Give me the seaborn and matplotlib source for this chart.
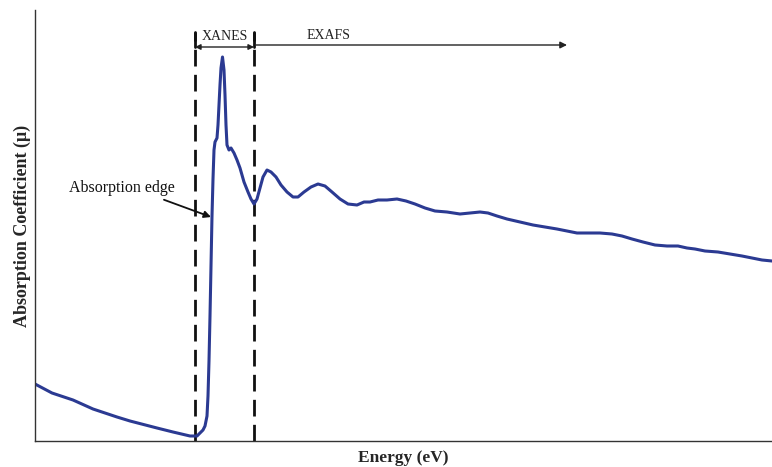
import matplotlib
matplotlib.use("Agg")
import matplotlib.pyplot as plt
import seaborn as sns
import pandas as pd

# X-ray absorption spectrum (arbitrary energy / absorption units)
energy = [0, 17, 38, 58, 82, 95, 122, 138, 155, 162,
          168, 170, 172, 173, 174, 175, 176, 177, 178, 179,
          180, 182, 183, 184, 185, 186, 187.5, 189, 190, 191,
          192, 194, 196, 199, 202, 205, 209, 213, 216, 219,
          222, 225, 228, 232, 236, 241, 246, 252, 258, 263,
          269, 276, 283, 290, 297, 305, 313, 322, 329, 335,
          343, 352, 362, 371, 380, 390, 400, 412, 425, 435,
          445, 453, 462, 472, 485, 498, 510, 522, 532, 542,
          555, 565, 577, 587, 597, 608, 620, 632, 643, 652,
          660, 670, 683, 695, 707, 717, 727, 737]
absorption = [57, 48, 41, 32, 24, 20, 13, 9, 5, 5,
              11, 15, 25, 45, 80, 125, 175, 225, 262, 291,
              299, 303, 316, 336, 356, 373, 384, 371, 346, 316,
              296, 291, 293, 288, 281, 273, 259, 249, 242, 237,
              242, 253, 264, 271, 269, 264, 256, 249, 244, 244,
              249, 254, 257, 255, 249, 242, 237, 236, 239, 239,
              241, 241, 242, 240, 237, 233, 230, 229, 227, 228,
              229, 228, 225, 222, 219, 216, 214, 212, 210, 208,
              208, 208, 207, 205, 202, 199, 196, 195, 195, 193,
              192, 190, 189, 187, 185, 183, 181, 180]

# Region boundaries (energy units)
edge_start = 160
xanes_end = 219
exafs_end = 532

df = pd.DataFrame({"Energy": energy, "Absorption": absorption})

sns.set_style("white")
plt.rcParams["font.family"] = ["Liberation Serif", "DejaVu Serif"]

fig = plt.figure(figsize=(7.72, 4.67), dpi=100)
ax = fig.add_axes([35 / 772, 26 / 467, 1 - 35 / 772, 431 / 467])

sns.lineplot(data=df, x="Energy", y="Absorption", ax=ax, color="#2B3A92",
             linewidth=2.2, sort=False, estimator=None)

ax.set_xlim(0, 737)
ax.set_ylim(0, 431)
ax.set_xticks([])
ax.set_yticks([])
for side in ["top", "right"]:
    ax.spines[side].set_visible(False)
for side in ["left", "bottom"]:
    ax.spines[side].set_color("#333333")
    ax.spines[side].set_linewidth(1.0)

# Region boundaries
top = 409
for xv in (edge_start, xanes_end):
    ax.plot([xv, xv], [0, top], color="#111111", lw=2.0,
            linestyle=(0, (6, 3)), zorder=1)
    ax.plot([xv, xv], [top - 15, top], color="#111111", lw=2.0, zorder=1)

# XANES double arrow
ax.annotate("", xy=(edge_start, 394), xytext=(xanes_end, 394),
            arrowprops=dict(arrowstyle="<|-|>", color="#222222", lw=1.0,
                            mutation_scale=8, shrinkA=0, shrinkB=0))
ax.text((edge_start + xanes_end) / 2, 398, "XANES", ha="center",
        va="bottom", fontsize=10, color="#222222")

# EXAFS arrow
ax.annotate("", xy=(exafs_end, 396), xytext=(xanes_end + 2, 396),
            arrowprops=dict(arrowstyle="-|>", color="#222222", lw=1.0,
                            mutation_scale=10, shrinkA=0, shrinkB=0))
ax.text(294, 399, "EXAFS", ha="center", va="bottom", fontsize=10,
        color="#222222")

# Absorption edge label
ax.annotate("Absorption edge", xy=(176, 224), xytext=(87, 253),
            ha="center", va="center", fontsize=11.5, color="#111111",
            arrowprops=dict(arrowstyle="-|>", color="#111111", lw=1.3,
                            mutation_scale=10, shrinkA=1, shrinkB=0,
                            relpos=(0.8, 0.0)))

ax.set_xlabel("Energy (eV)", fontsize=12.5, fontweight="bold", labelpad=6.5)
ax.set_ylabel("Absorption Coefficient (\u03bc)", fontsize=13,
              fontweight="bold", labelpad=3)

fig.savefig("out.png", dpi=100)
